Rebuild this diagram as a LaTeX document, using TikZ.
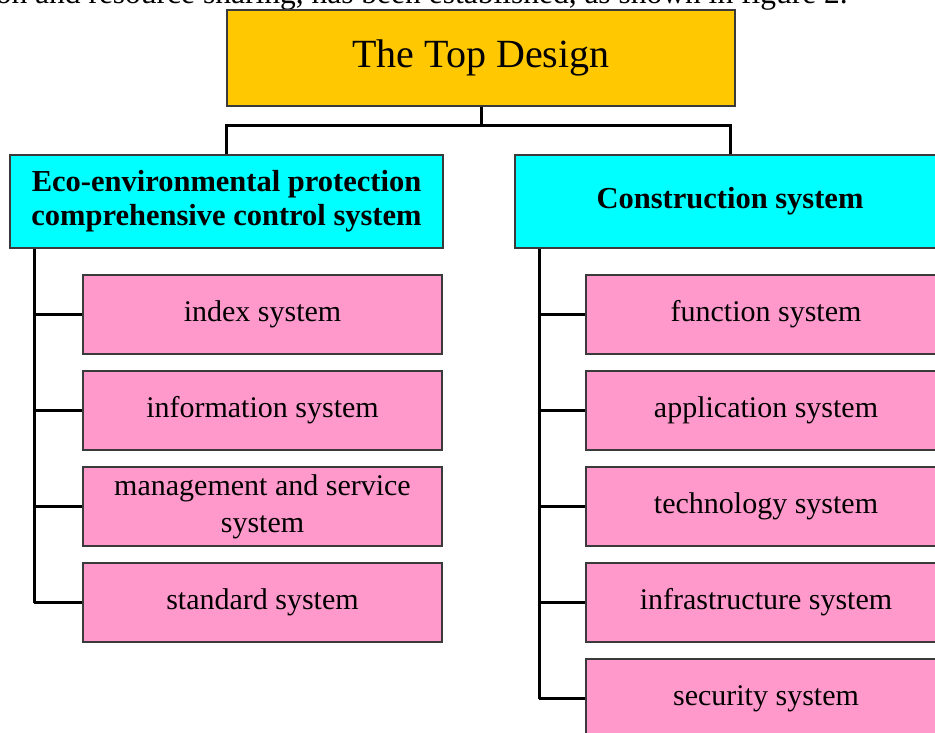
\documentclass[tikz,border=0pt]{standalone}
\usepackage{fontspec}
\setmainfont{Liberation Serif}
\usetikzlibrary{calc}
\definecolor{topgold}{HTML}{FFC800}
\definecolor{subcyan}{HTML}{00FFFF}
\definecolor{itempink}{HTML}{FF99CC}
\definecolor{edgegray}{HTML}{3A3A3A}
\begin{document}
\begin{tikzpicture}[x=1pt,y=-1pt,
  box/.style={draw=edgegray,line width=1.2pt,rectangle,inner sep=0pt,align=center},
  topbox/.style={box,fill=topgold,minimum width=508pt,minimum height=96pt,font=\fontsize{40}{44}\selectfont},
  groupbox/.style={box,fill=subcyan,minimum height=93pt,font=\fontsize{30.5}{34}\selectfont\bfseries},
  itembox/.style={box,fill=itempink,minimum width=359pt,minimum height=79pt,font=\fontsize{30}{37}\selectfont},
  link/.style={line width=3pt,black}]
\useasboundingbox (0,0) rectangle (935,733);
\begin{scope}
\clip (0,0) rectangle (935,733);
% partial caption line above the chart
\node[anchor=base east,inner sep=0pt,font=\fontsize{31.5}{34}\selectfont] (caption) at (848,4)
  {on and resource sharing, has been established, as shown in figure 2.};

\node[topbox] (top) at (481,58) {The Top Design};

\node[groupbox,minimum width=433pt] (eco) at (226.5,201.5)
  {Eco-environmental protection\\comprehensive control system};
\node[groupbox,minimum width=430pt] (con) at (730,201.5) {Construction system};

% left column items
\node[itembox] (e1) at (262.5,314.5) {index system};
\node[itembox] (e2) at (262.5,410.5) {information system};
\node[itembox] (e3) at (262.5,506.5) {management and service\\system};
\node[itembox] (e4) at (262.5,602.5) {standard system};

% right column items
\node[itembox,minimum width=360pt] (c1) at (766,314.5) {function system};
\node[itembox,minimum width=360pt] (c2) at (766,410.5) {application system};
\node[itembox,minimum width=360pt] (c3) at (766,506.5) {technology system};
\node[itembox,minimum width=360pt] (c4) at (766,602.5) {infrastructure system};
\node[itembox,minimum width=360pt] (c5) at (766,698.5) {security system};

% tree links from the top box to the two groups
\coordinate (split) at ($(top.south)+(0,19)$);
\draw[link] (top.south) -- (split);
\draw[link] (split) -| (eco.north);
\draw[link] (split) -| (con.north);

% left spine and branches
\coordinate (eTop) at ([xshift=25pt]eco.south west);
\coordinate (eBot) at (eTop |- e4.west);
\draw[link] (eTop) -- (eBot);
\foreach \n in {e1,e2,e3,e4}
  \draw[link] (eTop |- \n.west) -- (\n.west);

% right spine and branches
\coordinate (cTop) at ([xshift=25pt]con.south west);
\coordinate (cBot) at (cTop |- c5.west);
\draw[link] (cTop) -- (cBot);
\foreach \n in {c1,c2,c3,c4,c5}
  \draw[link] (cTop |- \n.west) -- (\n.west);
\end{scope}
\end{tikzpicture}
\end{document}
